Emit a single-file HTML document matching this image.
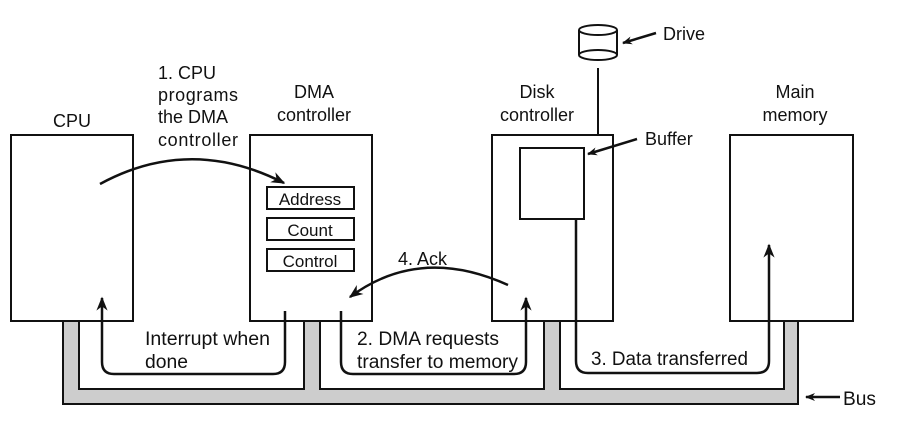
<!DOCTYPE html>
<html><head><meta charset="utf-8"><style>
html,body{margin:0;padding:0;background:#fff;}
svg{display:block;}
text{font-family:"Liberation Sans",Arial,sans-serif;font-size:18px;fill:#111;}
.n{font-size:19px;}
</style></head><body>
<svg width="916" height="424" viewBox="0 0 916 424" xmlns="http://www.w3.org/2000/svg">
<defs>
<marker id="ah" viewBox="0 0 10 10" refX="9" refY="5" markerWidth="10" markerHeight="10" markerUnits="userSpaceOnUse" orient="auto">
<path d="M0,1 L10,5 L0,9 L3,5 Z" fill="#111"/>
</marker>
<marker id="ah2" viewBox="0 0 10 10" refX="9" refY="5" markerWidth="14" markerHeight="14" markerUnits="userSpaceOnUse" orient="auto">
<path d="M0,1 L10,5 L0,9 L3,5 Z" fill="#111"/>
</marker>
</defs>
<path d="M63,321 L63,404 L798,404 L798,321 L784,321 L784,389 L560,389 L560,321 L544,321 L544,389 L320,389 L320,321 L304,321 L304,389 L79,389 L79,321 Z" fill="#cdcdcd" stroke="#111" stroke-width="2"/>
<g fill="#fff" stroke="#111" stroke-width="2">
<rect x="11" y="135" width="122" height="186"/>
<rect x="250" y="135" width="122" height="186"/>
<rect x="492" y="135" width="121" height="186"/>
<rect x="730" y="135" width="123" height="186"/>
<rect x="267" y="187" width="87" height="22"/>
<rect x="267" y="218" width="87" height="22"/>
<rect x="267" y="249" width="87" height="22"/>
<rect x="520" y="148" width="64" height="71"/>
</g>
<g fill="#fff" stroke="#111" stroke-width="2">
<path d="M579,30 L579,55 A19,5 0 0 0 617,55 L617,30"/>
<ellipse cx="598" cy="30" rx="19" ry="5"/>
<path d="M579,55 A19,5 0 0 1 617,55" fill="none"/>
</g>
<line x1="598" y1="68" x2="598" y2="135" stroke="#111" stroke-width="2"/>
<g fill="none" stroke="#111" stroke-width="2.5">
<path d="M656,33 L623,43" marker-end="url(#ah)"/>
<path d="M637,139 L588,154" marker-end="url(#ah)"/>
<path d="M100,184 Q190,135 284,183" marker-end="url(#ah2)"/>
<path d="M508,285 Q420,245 350,297" marker-end="url(#ah2)"/>
<path d="M285,311 L285,362 Q285,374 273,374 L114,374 Q102,374 102,362 L102,298" marker-end="url(#ah2)"/>
<path d="M341,311 L341,362 Q341,374 353,374 L514,374 Q526,374 526,362 L526,298" marker-end="url(#ah2)"/>
<path d="M576,219 L576,361 Q576,373 588,373 L757,373 Q769,373 769,361 L769,245" marker-end="url(#ah2)"/>
<path d="M840,397 L806,397" marker-end="url(#ah)"/>
</g>
<text x="72" y="127" text-anchor="middle">CPU</text>
<text x="158" y="79">1. CPU</text>
<text x="158" y="101" textLength="80">programs</text>
<text x="158" y="123">the DMA</text>
<text x="158" y="146" textLength="80">controller</text>
<text x="314" y="98" text-anchor="middle">DMA</text>
<text x="314" y="121" text-anchor="middle">controller</text>
<text x="537" y="98" text-anchor="middle">Disk</text>
<text x="537" y="121" text-anchor="middle">controller</text>
<text x="795" y="98" text-anchor="middle">Main</text>
<text x="795" y="121" text-anchor="middle">memory</text>
<text x="663" y="40">Drive</text>
<text x="645" y="145">Buffer</text>
<text x="310" y="205" text-anchor="middle" style="font-size:17px">Address</text>
<text x="310" y="236" text-anchor="middle" style="font-size:17px">Count</text>
<text x="310" y="267" text-anchor="middle" style="font-size:17px">Control</text>
<text x="398" y="265">4. Ack</text>
<text class="n" x="145" y="345" textLength="125" lengthAdjust="spacingAndGlyphs">Interrupt when</text>
<text class="n" x="145" y="368" textLength="43" lengthAdjust="spacingAndGlyphs">done</text>
<text class="n" x="357" y="345" textLength="142" lengthAdjust="spacingAndGlyphs">2. DMA requests</text>
<text class="n" x="357" y="368" textLength="161" lengthAdjust="spacingAndGlyphs">transfer to memory</text>
<text class="n" x="591" y="365" textLength="157" lengthAdjust="spacingAndGlyphs">3. Data transferred</text>
<text class="n" x="843" y="405" textLength="33" lengthAdjust="spacingAndGlyphs">Bus</text>
</svg>
</body></html>
